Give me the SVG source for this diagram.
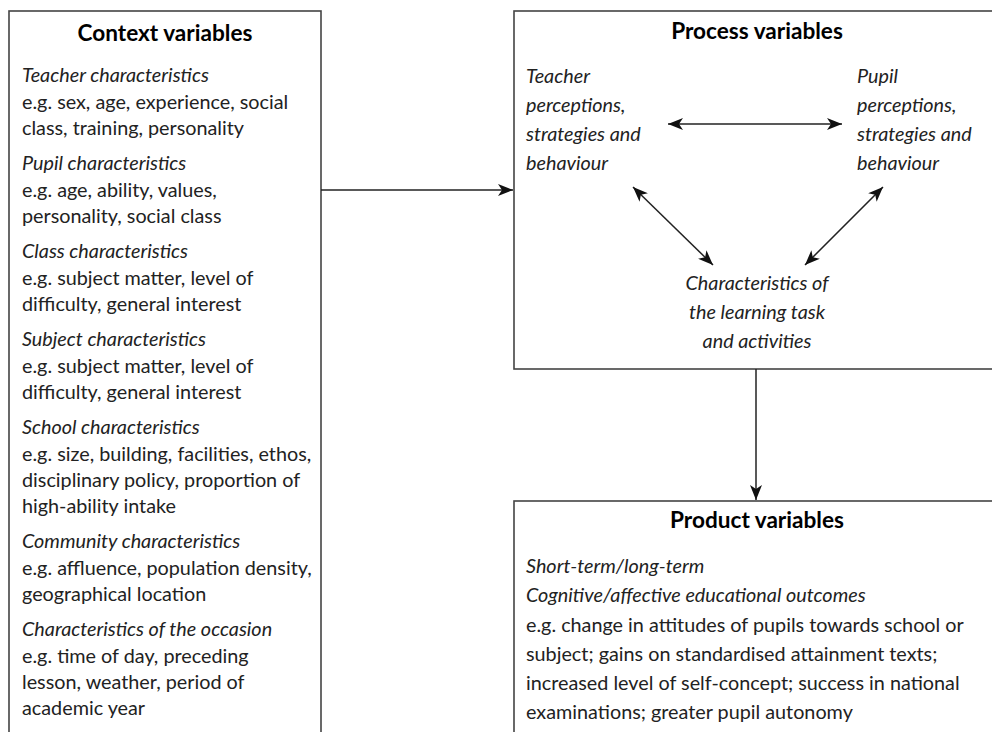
<svg xmlns="http://www.w3.org/2000/svg" width="992" height="732" viewBox="0 0 992 732">
<style>
.box{fill:#fff;stroke:#444;stroke-width:1.6}
.t{font-family:Lato,"Liberation Sans",sans-serif;font-size:19.8px;fill:#222}
.i{font-style:italic}
.h{font-weight:bold;font-size:22.6px;fill:#000;text-anchor:middle}
.c{text-anchor:middle}
.con{stroke:#222;stroke-width:1.5;fill:none}
</style>
<defs>
<marker id="ah" markerUnits="userSpaceOnUse" markerWidth="16" markerHeight="12" refX="15" refY="6" orient="auto-start-reverse" viewBox="0 0 16 12">
<path d="M0,0 L15,6 L0,12 L4,6 Z" fill="#111"/>
</marker>
</defs>
<rect width="992" height="732" fill="#fff"/>
<g id="context">
<rect class="box" x="9" y="11" width="312" height="740"/>
<text class="t h" x="165" y="41">Context variables</text>
<text class="t i" x="22" y="82">Teacher characteristics</text>
<text class="t" x="22" y="109">e.g. sex, age, experience, social</text>
<text class="t" x="22" y="135">class, training, personality</text>
<text class="t i" x="22" y="170">Pupil characteristics</text>
<text class="t" x="22" y="197">e.g. age, ability, values,</text>
<text class="t" x="22" y="223">personality, social class</text>
<text class="t i" x="22" y="258">Class characteristics</text>
<text class="t" x="22" y="285">e.g. subject matter, level of</text>
<text class="t" x="22" y="311">difficulty, general interest</text>
<text class="t i" x="22" y="346">Subject characteristics</text>
<text class="t" x="22" y="373">e.g. subject matter, level of</text>
<text class="t" x="22" y="399">difficulty, general interest</text>
<text class="t i" x="22" y="434">School characteristics</text>
<text class="t" x="22" y="461">e.g. size, building, facilities, ethos,</text>
<text class="t" x="22" y="487">disciplinary policy, proportion of</text>
<text class="t" x="22" y="513">high-ability intake</text>
<text class="t i" x="22" y="548">Community characteristics</text>
<text class="t" x="22" y="575">e.g. affluence, population density,</text>
<text class="t" x="22" y="601">geographical location</text>
<text class="t i" x="22" y="636">Characteristics of the occasion</text>
<text class="t" x="22" y="663">e.g. time of day, preceding</text>
<text class="t" x="22" y="689">lesson, weather, period of</text>
<text class="t" x="22" y="715">academic year</text>
</g>
<g id="process">
<rect class="box" x="514" y="11" width="500" height="358"/>
<text class="t h" x="757" y="39">Process variables</text>
<g id="teacher">
<text class="t i" x="526" y="83">Teacher</text>
<text class="t i" x="526" y="112">perceptions,</text>
<text class="t i" x="526" y="141">strategies and</text>
<text class="t i" x="526" y="170">behaviour</text>
</g>
<g id="pupil">
<text class="t i" x="857" y="83">Pupil</text>
<text class="t i" x="857" y="112">perceptions,</text>
<text class="t i" x="857" y="141">strategies and</text>
<text class="t i" x="857" y="170">behaviour</text>
</g>
<g id="task">
<text class="t i c" x="757" y="290">Characteristics of</text>
<text class="t i c" x="757" y="319">the learning task</text>
<text class="t i c" x="757" y="348">and activities</text>
</g>
</g>
<g id="product">
<rect class="box" x="514" y="501" width="500" height="250"/>
<text class="t h" x="757" y="528">Product variables</text>
<text class="t i" x="526" y="573">Short-term/long-term</text>
<text class="t i" x="526" y="602">Cognitive/affective educational outcomes</text>
<text class="t" x="526" y="632">e.g. change in attitudes of pupils towards school or</text>
<text class="t" x="526" y="661">subject; gains on standardised attainment texts;</text>
<text class="t" x="526" y="690">increased level of self-concept; success in national</text>
<text class="t" x="526" y="719">examinations; greater pupil autonomy</text>
</g>
<g id="connectors">
<path class="con" d="M321,190 L513,190" marker-end="url(#ah)"/>
<path class="con" d="M756,369 L756,500" marker-end="url(#ah)"/>
<path class="con" d="M668,124 L842,124" marker-start="url(#ah)" marker-end="url(#ah)"/>
<path class="con" d="M633,187 L713,265" marker-start="url(#ah)" marker-end="url(#ah)"/>
<path class="con" d="M883,187 L805,265" marker-start="url(#ah)" marker-end="url(#ah)"/>
</g>
</svg>
